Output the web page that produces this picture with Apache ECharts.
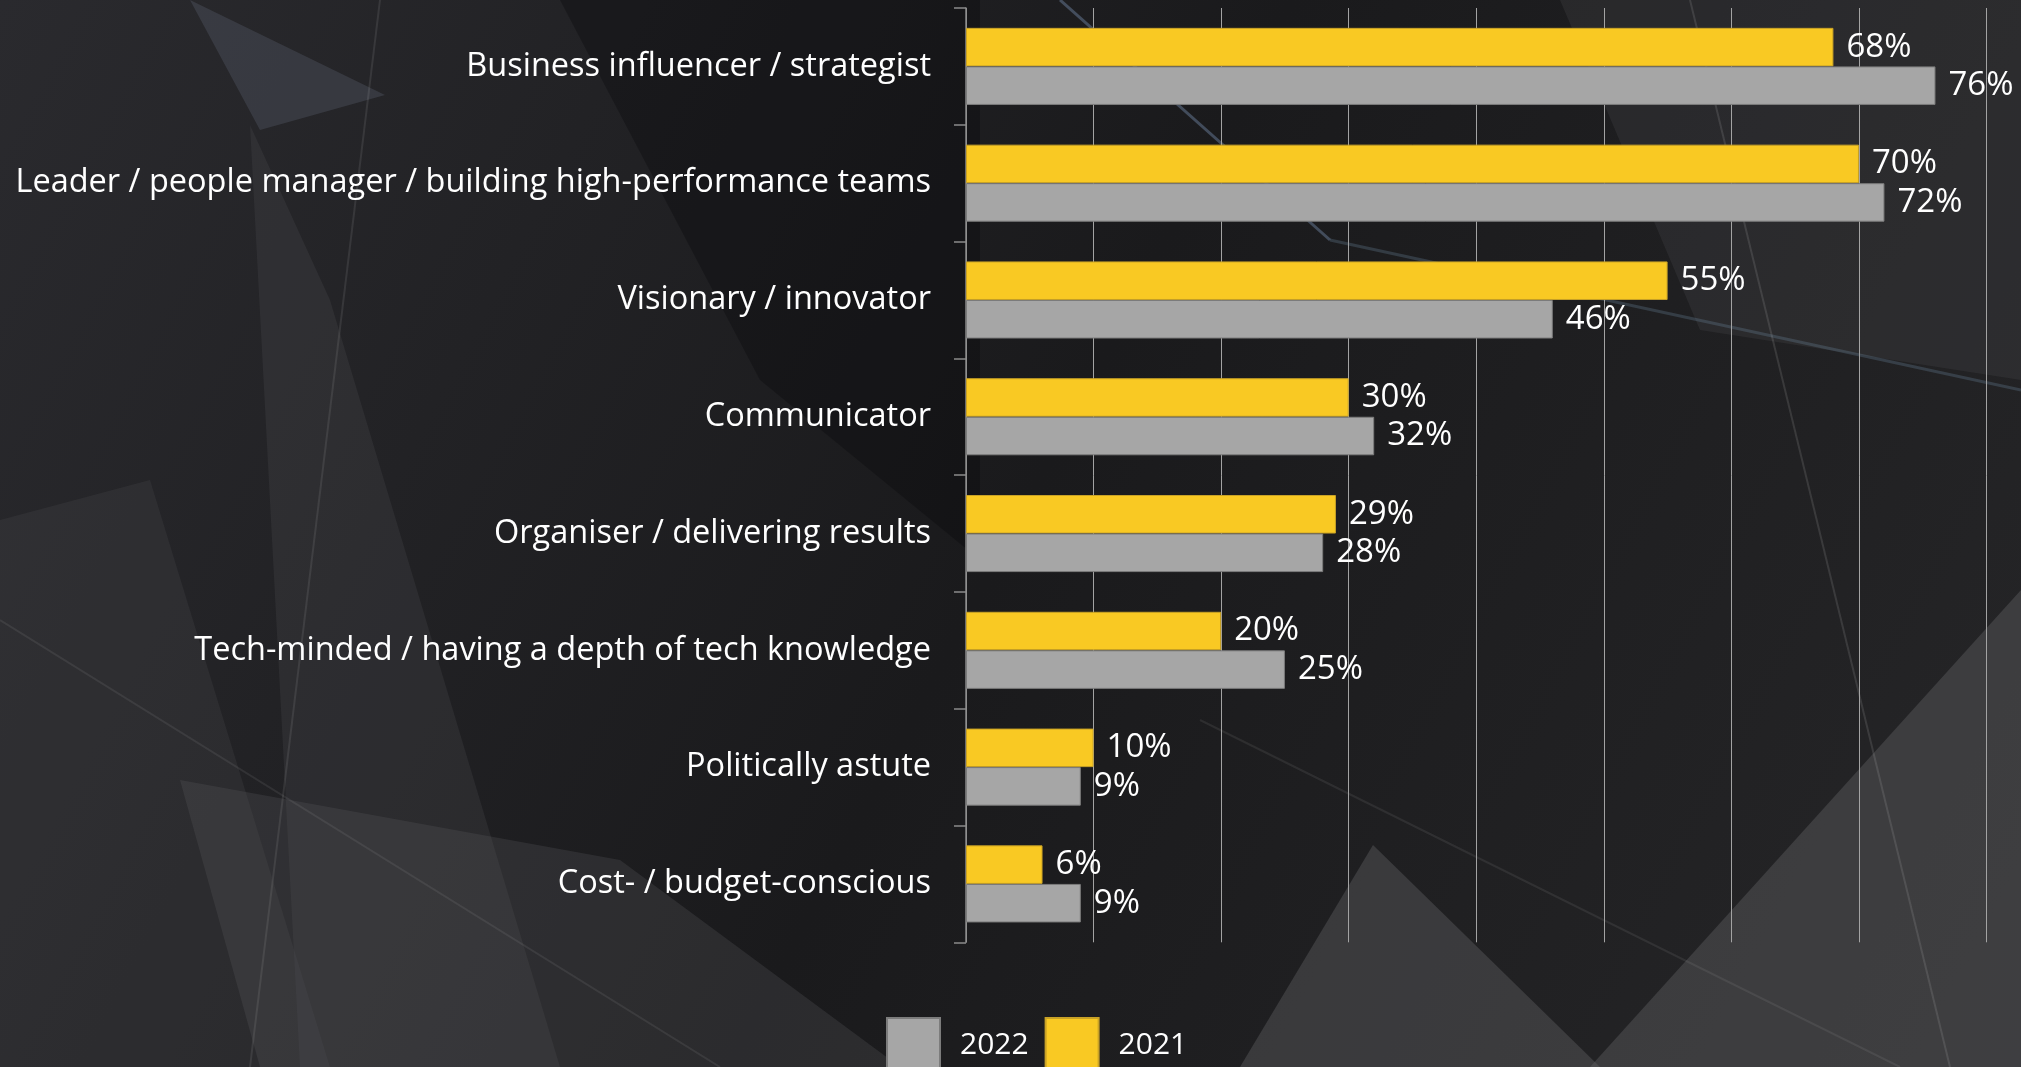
<!DOCTYPE html>
<html>
<head>
<meta charset="utf-8">
<script src="https://cdn.jsdelivr.net/npm/echarts@6/dist/echarts.min.js"></script>
<style>
html,body{margin:0;padding:0;background:#1b1b1d;}
#chart{width:2021px;height:1067px;}
</style>
</head>
<body>
<div id="chart"></div>
<script>
const categories = [
  'Business influencer / strategist',
  'Leader / people manager / building high-performance teams',
  'Visionary / innovator',
  'Communicator',
  'Organiser / delivering results',
  'Tech-minded / having a depth of tech knowledge',
  'Politically astute',
  'Cost- / budget-conscious'
];
const values2021 = [68, 70, 55, 30, 29, 20, 10, 6];
const values2022 = [76, 72, 46, 32, 28, 25, 9, 9];
const seriesNames = ['2022', '2021'];

const FONT = '"Open Sans", "Noto Sans", sans-serif';
const chart = echarts.init(document.getElementById('chart'), null, {renderer: 'canvas'});

function poly(points, fill) {
  return {type: 'polygon', silent: true, z: -10, shape: {points: points}, style: {fill: fill}};
}
function streak(x1, y1, x2, y2, color, w) {
  return {type: 'line', silent: true, z: -9, shape: {x1: x1, y1: y1, x2: x2, y2: y2}, style: {stroke: color, lineWidth: w}};
}

const decorations = [
  poly([[190,0],[385,95],[260,130]], 'rgba(90,95,110,0.35)'),
  poly([[250,125],[330,300],[560,1067],[300,1067]], 'rgba(80,80,85,0.25)'),
  poly([[0,520],[150,480],[330,1067],[0,1067]], 'rgba(70,70,72,0.30)'),
  poly([[180,780],[620,860],[900,1067],[260,1067]], 'rgba(90,90,92,0.28)'),
  poly([[1373,845],[1600,1067],[1240,1067]], 'rgba(110,110,112,0.35)'),
  poly([[2021,590],[2021,1067],[1590,1067]], 'rgba(100,100,102,0.40)'),
  poly([[1560,0],[2021,0],[2021,380],[1700,330]], 'rgba(70,70,74,0.30)'),
  poly([[560,0],[980,0],[980,560],[760,380]], 'rgba(10,10,12,0.35)'),
  streak(1060,0,1330,240,'rgba(140,170,210,0.35)',3),
  streak(1330,240,2021,390,'rgba(120,150,180,0.25)',3),
  streak(1690,0,1950,1067,'rgba(200,200,200,0.15)',2),
  streak(380,0,250,1067,'rgba(200,200,200,0.12)',2),
  streak(0,620,720,1067,'rgba(200,200,200,0.10)',2),
  streak(1200,720,1900,1067,'rgba(200,200,200,0.10)',2)
];

const option = {
  animation: false,
  backgroundColor: {
    type: 'linear', x: 0, y: 0, x2: 1, y2: 1,
    colorStops: [
      {offset: 0, color: '#2a2a2e'},
      {offset: 0.5, color: '#1a1a1c'},
      {offset: 1, color: '#262628'}
    ]
  },
  graphic: decorations,
  grid: {left: 966, right: 34.5, top: 8, bottom: 124.7, containLabel: false},
  legend: {
    data: ['2022', '2021'],
    left: 881,
    top: 1012,
    itemWidth: 53,
    itemHeight: 55,
    itemGap: 16,
    icon: 'rect',
    textStyle: {color: '#ffffff', fontSize: 30, fontFamily: FONT, padding: [20, 0, 0, 15]}
  },
  xAxis: {
    type: 'value',
    min: 0,
    max: 80,
    interval: 10,
    axisLabel: {show: false},
    axisLine: {show: false},
    axisTick: {show: false},
    splitLine: {show: true, lineStyle: {color: '#a3a3a3', width: 1}}
  },
  yAxis: {
    type: 'category',
    data: categories,
    inverse: true,
    axisLine: {show: true, lineStyle: {color: '#8a8a8a', width: 1.5}},
    axisTick: {show: true, length: 12, lineStyle: {color: '#8a8a8a', width: 1.5}},
    axisLabel: {color: '#ffffff', fontSize: 32.5, fontFamily: FONT, margin: 35}
  },
  series: [
    {
      name: '2021',
      type: 'bar',
      data: values2021,
      barGap: '0%',
      barCategoryGap: '34%',
      itemStyle: {color: '#f9c923', borderColor: '#c9a226', borderWidth: 1},
      label: {show: true, position: 'right', distance: 13, color: '#ffffff', fontSize: 33, fontFamily: FONT, formatter: '{c}%'}
    },
    {
      name: '2022',
      type: 'bar',
      data: values2022,
      barGap: '0%',
      barCategoryGap: '34%',
      itemStyle: {color: '#a6a6a6', borderColor: '#7c7c7c', borderWidth: 1},
      label: {show: true, position: 'right', distance: 13, color: '#ffffff', fontSize: 33, fontFamily: FONT, formatter: '{c}%'}
    }
  ]
};
chart.setOption(option);
</script>
</body>
</html>
